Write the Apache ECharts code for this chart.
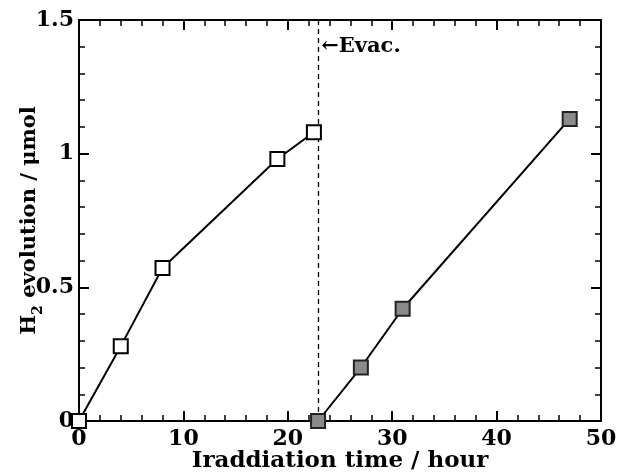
<!DOCTYPE html>
<html>
<head>
<meta charset="utf-8">
<script src="https://cdn.jsdelivr.net/npm/echarts@6/dist/echarts.min.js"></script>
<style>
html, body { margin: 0; padding: 0; background: #fff; }
#chart { width: 617px; height: 472px; }
</style>
</head>
<body>
<div id="chart"></div>
<script>
// first run (open squares) and second run after evacuation (filled squares)
var timeBefore = [0, 4, 8, 19, 22.5];
var h2Before = [0, 0.28, 0.572, 0.98, 1.08];
var timeAfter = [22.9, 27, 31, 47];
var h2After = [0, 0.2, 0.42, 1.13];
var evacTime = 22.9;

var font = 'DejaVu Serif';

function pairs(xs, ys) {
    var out = [];
    for (var i = 0; i < xs.length; i++) out.push([xs[i], ys[i]]);
    return out;
}

function axisCommon(showLabel) {
    return {
        axisLine: { show: true, onZero: false, lineStyle: { color: '#000', width: 2 } },
        axisTick: { show: true, inside: true, length: 10, lineStyle: { color: '#000', width: 2 } },
        minorTick: { show: true, splitNumber: 5, length: 6, lineStyle: { color: '#000', width: 1.5 } },
        splitLine: { show: false },
        axisLabel: { show: showLabel, color: '#000', fontFamily: font, fontWeight: 'bold', fontSize: 22 }
    };
}

var xBottom = Object.assign(axisCommon(true), {
    type: 'value', position: 'bottom', min: 0, max: 50, interval: 10,
    name: 'Iraddiation time / hour', nameLocation: 'middle', nameGap: 29, nameMoveOverlap: false,
    nameTextStyle: { color: '#000', fontFamily: font, fontWeight: 'bold', fontSize: 23 }
});
xBottom.axisLabel.margin = 7;
var xTop = Object.assign(axisCommon(false), {
    type: 'value', position: 'top', min: 0, max: 50, interval: 10
});
var yLeft = Object.assign(axisCommon(true), {
    type: 'value', position: 'left', min: 0, max: 1.5, interval: 0.5,
    name: '{a|H}{s|2}{a| evolution / μmol}', nameLocation: 'middle', nameGap: 34, nameRotate: 90,
    nameMoveOverlap: false,
    nameTextStyle: {
        color: '#000',
        rich: {
            a: { fontFamily: font, fontWeight: 'bold', fontSize: 21, color: '#000', lineHeight: 30 },
            s: { fontFamily: font, fontWeight: 'bold', fontSize: 14, color: '#000', lineHeight: 14, verticalAlign: 'bottom' }
        }
    }
});
yLeft.axisLabel.margin = 5;
var yRight = Object.assign(axisCommon(false), {
    type: 'value', position: 'right', min: 0, max: 1.5, interval: 0.5
});

var chart = echarts.init(document.getElementById('chart'));
chart.setOption({
    animation: false,
    backgroundColor: '#fff',
    grid: { left: 79, right: 16, top: 20, bottom: 51, containLabel: false, outerBoundsMode: 'none' },
    xAxis: [xBottom, xTop],
    yAxis: [yLeft, yRight],
    series: [
        {
            type: 'line',
            data: pairs(timeBefore, h2Before),
            symbol: 'rect',
            symbolSize: 14,
            z: 5,
            clip: false,
            lineStyle: { color: '#000', width: 2 },
            itemStyle: { color: '#fff', borderColor: '#000', borderWidth: 2 }
        },
        {
            type: 'line',
            data: pairs(timeAfter, h2After),
            symbol: 'rect',
            symbolSize: 14,
            z: 5,
            clip: false,
            lineStyle: { color: '#000', width: 2 },
            itemStyle: { color: '#8a8a8a', borderColor: '#222', borderWidth: 2 },
            markLine: {
                silent: true,
                symbol: 'none',
                label: { show: false },
                lineStyle: { color: '#000', width: 1.3, type: [5, 4] },
                data: [
                    { xAxis: evacTime },
                    [{ coord: [evacTime - 1, 1.508], lineStyle: { type: 'solid' } },
                     { coord: [evacTime + 0.85, 1.508] }]
                ]
            },
            markPoint: {
                silent: true,
                symbol: 'circle',
                symbolSize: 0,
                label: {
                    show: true, position: 'right', distance: 0,
                    formatter: '←Evac.',
                    color: '#000', fontFamily: font, fontWeight: 'bold', fontSize: 21
                },
                data: [{ coord: [evacTime + 0.3, 1.4] }]
            }
        }
    ]
});
</script>
</body>
</html>
